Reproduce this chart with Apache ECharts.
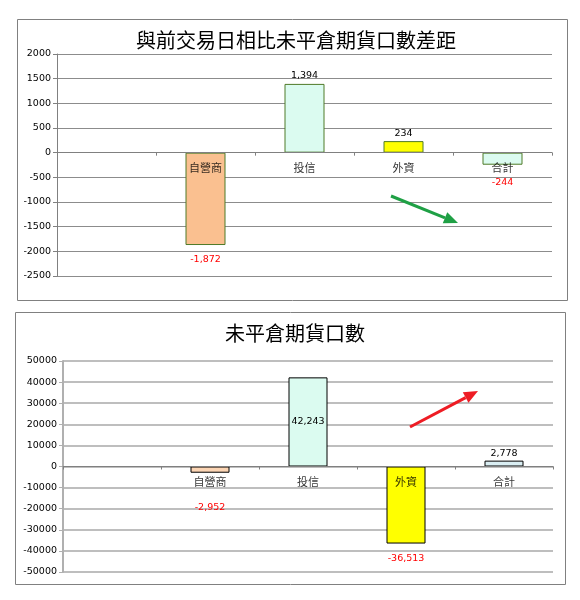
<!DOCTYPE html>
<html><head><meta charset="utf-8">
<script src="https://cdn.jsdelivr.net/npm/echarts@6/dist/echarts.min.js"></script>
<style>html,body{margin:0;padding:0;background:#fff}#c{width:580px;height:600px}</style>
</head><body><div id="c"></div>
<script>
const categories = ['', '自營商', '投信', '外資', '合計'];
const title1 = '與前交易日相比未平倉期貨口數差距';
const title2 = '未平倉期貨口數';
const diffValues = [null, -1872, 1394, 234, -244];
const oiValues = [null, -2952, 42243, -36513, 2778];
const diffColors = [null, '#FAC090', '#DBFBF0', '#FFFF00', '#DBFBF0'];
const oiColors = [null, '#FCD5B4', '#DBFBF0', '#FFFF00', '#DAEEF3'];
const yTicks1 = { min: -2500, max: 2000, interval: 500 };
const yTicks2 = { min: -50000, max: 50000, interval: 10000 };

const fmt = v => Number(v).toLocaleString('en-US');
const cjk = '"Noto Sans CJK TC", "Noto Sans CJK SC", sans-serif';

function items(vals, colors, border, opts) {
  return vals.map((v, i) => {
    if (v == null) return null;
    const o = opts[i] || {};
    return {
      value: v,
      itemStyle: { color: colors[i], borderColor: border, borderWidth: 1 },
      label: {
        show: true,
        position: o.pos || (v < 0 ? 'bottom' : 'top'),
        distance: o.dist != null ? o.dist : 3,
        color: v < 0 ? '#FF0000' : '#000',
        fontSize: 9.5, fontFamily: 'DejaVu Sans',
        formatter: p => fmt(p.value)
      }
    };
  });
}

// category names drawn at the zero line (as in the Excel original)
function catLabels(xi, yi) {
  return {
    type: 'scatter', xAxisIndex: xi, yAxisIndex: yi, symbolSize: 0, z: 5, silent: true,
    data: categories.map(c => c ? [c, 0] : null).filter(Boolean),
    label: { show: true, position: 'bottom', distance: 10, color: '#000', fontSize: 11, fontFamily: cjk,
      formatter: p => p.value[0] }
  };
}

function arrow(x1, y1, x2, y2, color) {
  const ang = Math.atan2(y2 - y1, x2 - x1);
  const L = 14, W = 6;
  const bx = x2 - L * Math.cos(ang), by = y2 - L * Math.sin(ang);
  const px = -Math.sin(ang) * W, py = Math.cos(ang) * W;
  return [
    { type: 'line', shape: { x1: x1, y1: y1, x2: bx, y2: by }, style: { stroke: color, lineWidth: 3 }, z: 10 },
    { type: 'polygon', shape: { points: [[x2, y2], [bx + px, by + py], [bx - px, by - py]] }, style: { fill: color }, z: 10 }
  ];
}

const axisLabelY = { fontSize: 9.5, fontFamily: 'DejaVu Sans', color: '#000', margin: 6, formatter: v => String(v) };
const chart = echarts.init(document.getElementById('c'));
chart.setOption({
  animation: false,
  title: [
    { text: title1, left: 291, top: 25, textAlign: 'center', textStyle: { fontFamily: cjk, fontSize: 20, fontWeight: 'normal', color: '#000' } },
    { text: title2, left: 290, top: 318, textAlign: 'center', textStyle: { fontFamily: cjk, fontSize: 20, fontWeight: 'normal', color: '#000' } }
  ],
  grid: [
    { left: 57, top: 54, width: 495, height: 222 },
    { left: 63, top: 361, width: 490, height: 211 }
  ],
  xAxis: [
    { type: 'category', gridIndex: 0, data: categories, z: 5,
      axisLine: { onZero: true, lineStyle: { color: '#808080' } },
      axisTick: { show: true, length: 3, lineStyle: { color: '#808080' } },
      axisLabel: { show: false } },
    { type: 'category', gridIndex: 1, data: categories, z: 5,
      axisLine: { onZero: true, lineStyle: { color: '#808080' } },
      axisTick: { show: true, length: 3, lineStyle: { color: '#808080' } },
      axisLabel: { show: false } }
  ],
  yAxis: [
    Object.assign({ type: 'value', gridIndex: 0,
      axisLine: { show: true, lineStyle: { color: '#808080' } },
      axisTick: { show: true, length: 4, lineStyle: { color: '#808080' } },
      splitLine: { lineStyle: { color: '#8c8c8c' } },
      axisLabel: axisLabelY }, yTicks1),
    Object.assign({ type: 'value', gridIndex: 1,
      axisLine: { show: true, lineStyle: { color: '#b0b0b0', width: 2 } },
      axisTick: { show: true, length: 4, lineStyle: { color: '#b0b0b0' } },
      splitLine: { lineStyle: { color: '#a8a8a8', width: 1.5 } },
      axisLabel: axisLabelY }, yTicks2)
  ],
  series: [
    { type: 'bar', xAxisIndex: 0, yAxisIndex: 0, barWidth: 40,
      data: items(diffValues, diffColors, '#4F7A28', { 1: { dist: 10 }, 4: { dist: 13 } }) },
    { type: 'bar', xAxisIndex: 1, yAxisIndex: 1, barWidth: 39,
      data: items(oiValues, oiColors, '#000', { 1: { dist: 30 }, 2: { pos: 'inside' }, 3: { dist: 10 }, 4: { dist: 2 } }) },
    catLabels(0, 0),
    catLabels(1, 1)
  ],
  graphic: [
    { type: 'rect', shape: { x: 17.5, y: 19.5, width: 550, height: 281 }, style: { fill: 'none', stroke: '#808080', lineWidth: 1 }, z: -1 },
    { type: 'rect', shape: { x: 15.5, y: 312.5, width: 550, height: 272 }, style: { fill: 'none', stroke: '#808080', lineWidth: 1 }, z: -1 }
  ].concat(arrow(391, 196, 458, 223, '#1FA045')).concat(arrow(410, 427, 478, 391, '#EE1C24'))
});
</script></body></html>
